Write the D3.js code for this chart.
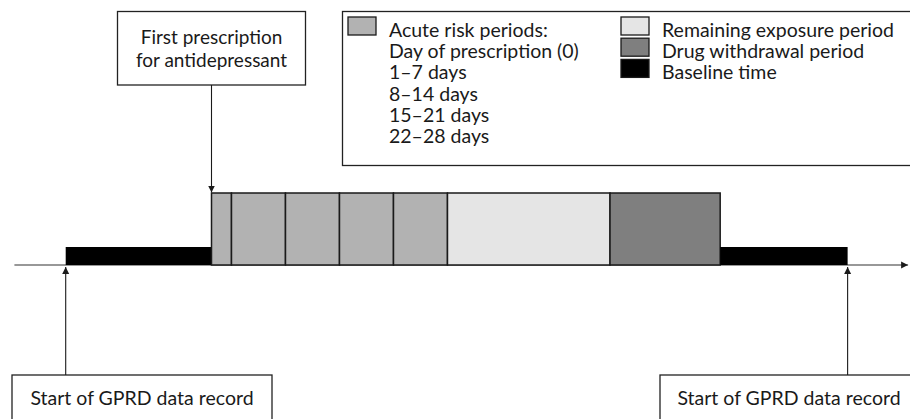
<!DOCTYPE html>
<html><head><meta charset="utf-8">
<script src="https://cdn.jsdelivr.net/npm/d3@7"></script>
<style>
html,body{margin:0;padding:0;background:#fff;}
svg{display:block;font-family:Lato,"Open Sans",sans-serif;}
</style></head>
<body>
<svg id="c" width="910" height="419"></svg>
<script>
// Timeline periods in schematic units (one unit = one 7-day acute period; 0 = first prescription)
const periodNames = ["Baseline time","Day of prescription (0)","1–7 days","8–14 days","15–21 days","22–28 days","Remaining exposure period","Drug withdrawal period","Baseline time"];
const periodStart = [-2.7, 0, 0.37, 1.37, 2.37, 3.37, 4.37, 7.38, 9.42];
const periodEnd   = [0, 0.37, 1.37, 2.37, 3.37, 4.37, 7.38, 9.42, 11.78];
const periodType  = ["baseline","acute","acute","acute","acute","acute","remaining","withdrawal","baseline"];
const periodLevel = [0.25, 1, 1, 1, 1, 1, 1, 1, 0.25];

const legendLeft  = ["Acute risk periods:","Day of prescription (0)","1–7 days","8–14 days","15–21 days","22–28 days"];
const legendRightLabels = ["Remaining exposure period","Drug withdrawal period","Baseline time"];
const legendRightTypes  = ["remaining","withdrawal","baseline"];

const axisDomain = [-3.65, 12.9];
const prescriptionAt = 0;
const recordStartAt = [-2.7, 11.78];

const fills = {acute:"#b2b2b2", remaining:"#e5e5e5", withdrawal:"#7f7f7f", baseline:"#000000"};

const svg = d3.select("#c");
const x = d3.scaleLinear().domain([0, 1]).range([211.5, 265.5]);
const y = d3.scaleLinear().domain([0, 1]).range([265, 193]);
const FS = 19.5;
const ink = "#1a1a1a";

svg.append("defs").append("marker")
  .attr("id","ah").attr("viewBox","0 0 10 10").attr("refX",10).attr("refY",5)
  .attr("markerWidth",7).attr("markerHeight",9).attr("markerUnits","userSpaceOnUse")
  .attr("orient","auto")
  .append("path").attr("d","M0,0 L10,5 L0,10 Z").attr("fill",ink);

// axis line
svg.append("line")
  .attr("x1", x(axisDomain[0])).attr("x2", x(axisDomain[1]))
  .attr("y1", y(0)).attr("y2", y(0))
  .attr("stroke","#333").attr("stroke-width",1.2)
  .attr("marker-end","url(#ah)");

// periods
const data = periodNames.map((n,i)=>({name:n,s:periodStart[i],e:periodEnd[i],t:periodType[i],l:periodLevel[i]}));
svg.selectAll("rect.p").data(data).join("rect").attr("class","p")
  .attr("x", d=>x(d.s)).attr("width", d=>x(d.e)-x(d.s))
  .attr("y", d=>y(d.l)).attr("height", d=>y(0)-y(d.l))
  .attr("fill", d=>fills[d.t])
  .attr("stroke", d=>d.t==="baseline"?"none":ink).attr("stroke-width",1.5);

// top annotation box
function box(x0,y0,w,h){
  svg.append("rect").attr("x",x0).attr("y",y0).attr("width",w).attr("height",h)
    .attr("fill","#fff").attr("stroke","#222").attr("stroke-width",1.3);
}
box(117.5, 11.5, 188, 73.5);
svg.append("text").attr("x",211.5).attr("y",44).attr("text-anchor","middle").attr("font-size",19).attr("fill",ink).text("First prescription");
svg.append("text").attr("x",211.5).attr("y",67).attr("text-anchor","middle").attr("font-size",19).attr("fill",ink).text("for antidepressant");
svg.append("line").attr("x1",x(prescriptionAt)).attr("x2",x(prescriptionAt))
  .attr("y1",85).attr("y2",y(1)-0.5).attr("stroke",ink).attr("stroke-width",1.1).attr("marker-end","url(#ah)");

// bottom boxes
box(12, 375, 260, 60);
box(660, 375, 260, 60);
svg.append("text").attr("x",142).attr("y",405).attr("text-anchor","middle").attr("font-size",FS).attr("fill",ink).text("Start of GPRD data record");
svg.append("text").attr("x",789).attr("y",405).attr("text-anchor","middle").attr("font-size",FS).attr("fill",ink).text("Start of GPRD data record");
recordStartAt.forEach(v=>{
  svg.append("line").attr("x1",x(v)).attr("x2",x(v)).attr("y1",375).attr("y2",y(0)+2)
    .attr("stroke",ink).attr("stroke-width",1.1).attr("marker-end","url(#ah)");
});

// legend
box(342.5, 11.5, 580, 154);
const rowY = i => 37 + i*21.2;
svg.append("rect").attr("x",348).attr("y",17).attr("width",28).attr("height",18)
  .attr("fill",fills.acute).attr("stroke",ink).attr("stroke-width",1.3);
legendLeft.forEach((t,i)=>{
  svg.append("text").attr("x",389).attr("y",rowY(i)).attr("font-size",FS).attr("fill",ink).text(t);
});
legendRightLabels.forEach((t,i)=>{
  svg.append("rect").attr("x",621).attr("y",rowY(i)-20).attr("width",28).attr("height",18)
    .attr("fill",fills[legendRightTypes[i]]).attr("stroke",ink).attr("stroke-width",1.3);
  svg.append("text").attr("x",662).attr("y",rowY(i)).attr("font-size",FS).attr("fill",ink).text(t);
});
</script>
</body></html>
